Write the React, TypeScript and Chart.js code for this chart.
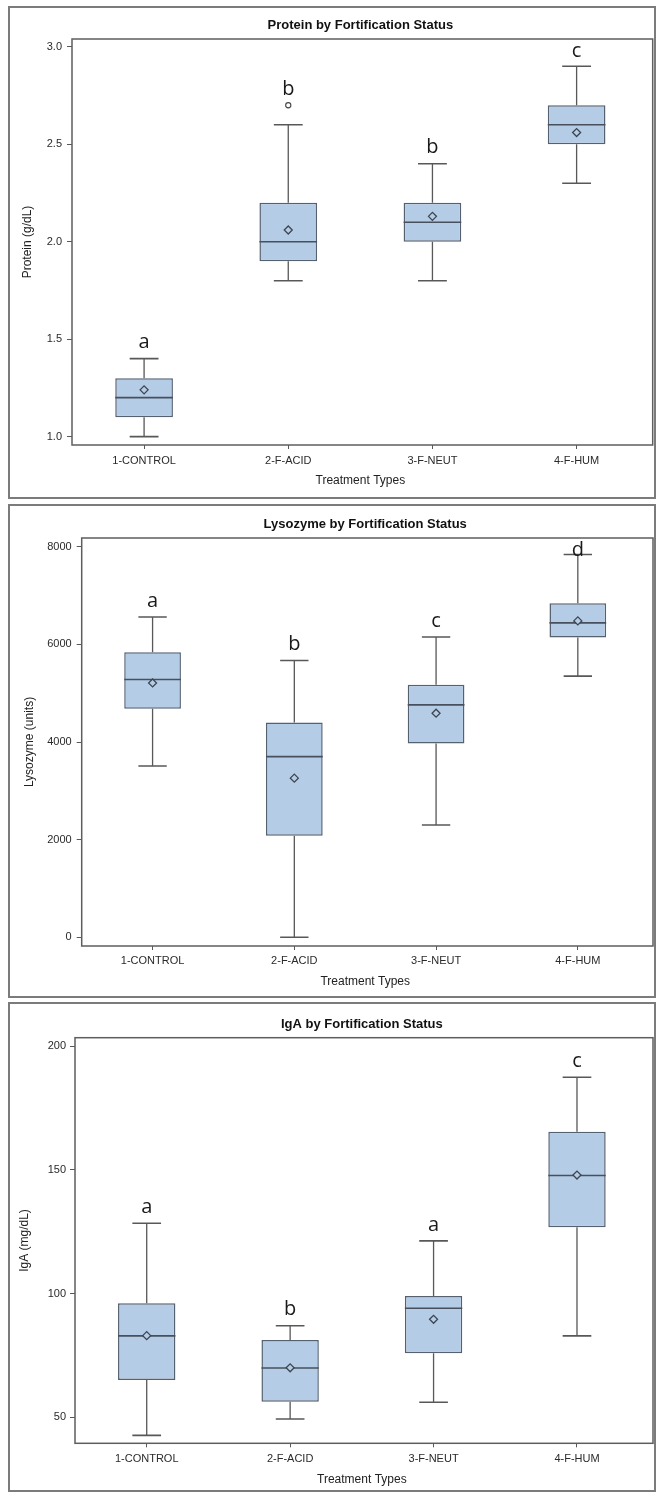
import React, { useEffect, useRef } from 'react';
import { Chart, registerables } from 'chart.js';

Chart.register(...registerables);

const categories = ['1-CONTROL', '2-F-ACID', '3-F-NEUT', '4-F-HUM'];
const xAxisTitle = 'Treatment Types';

// Protein (g/dL)
const proteinMin = [1.0, 1.8, 1.8, 2.3];
const proteinQ1 = [1.1, 1.9, 2.0, 2.5];
const proteinMedian = [1.2, 2.0, 2.1, 2.6];
const proteinQ3 = [1.3, 2.2, 2.2, 2.7];
const proteinMax = [1.4, 2.6, 2.4, 2.9];
const proteinMean = [1.24, 2.06, 2.13, 2.56];
const proteinOutliers = [null, 2.7, null, null];
const proteinLetters = ['a', 'b', 'b', 'c'];
const proteinTicks = [1.0, 1.5, 2.0, 2.5, 3.0];
const proteinTickLabels = ['1.0', '1.5', '2.0', '2.5', '3.0'];
const proteinRange = [0.957, 3.04];

// Lysozyme (units)
const lysozymeMin = [3510, 0, 2300, 5350];
const lysozymeQ1 = [4680, 2080, 3970, 6140];
const lysozymeMedian = [5280, 3700, 4760, 6440];
const lysozymeQ3 = [5840, 4400, 5170, 6840];
const lysozymeMax = [6560, 5670, 6150, 7840];
const lysozymeMean = [5210, 3260, 4590, 6480];
const lysozymeOutliers = [null, null, null, null];
const lysozymeLetters = ['a', 'b', 'c', 'd'];
const lysozymeTicks = [0, 2000, 4000, 6000, 8000];
const lysozymeTickLabels = ['0', '2000', '4000', '6000', '8000'];
const lysozymeRange = [-178, 8178];

// IgA (mg/dL)
const igaMin = [42.7, 49.3, 56.1, 82.9];
const igaQ1 = [65.1, 56.3, 75.9, 126.8];
const igaMedian = [82.9, 69.9, 94.1, 147.7];
const igaQ3 = [96.1, 81.2, 99.0, 165.4];
const igaMax = [128.4, 87.0, 121.3, 187.4];
const igaMean = [83.0, 70.0, 89.6, 147.9];
const igaOutliers = [null, null, null, null];
const igaLetters = ['a', 'b', 'a', 'c'];
const igaTicks = [50, 100, 150, 200];
const igaTickLabels = ['50', '100', '150', '200'];
const igaRange = [39.5, 203.4];

const FONT = "'Liberation Sans', Arial, sans-serif";
const BOX_FILL = '#b5cce7';
const BOX_EDGE = '#566170';
const LINE = '#585858';

const panelData = [
  {
    title: 'Protein by Fortification Status', yTitle: 'Protein (g/dL)',
    min: proteinMin, q1: proteinQ1, median: proteinMedian, q3: proteinQ3, max: proteinMax,
    mean: proteinMean, outliers: proteinOutliers, letters: proteinLetters,
    ticks: proteinTicks, tickLabels: proteinTickLabels, range: proteinRange,
  },
  {
    title: 'Lysozyme by Fortification Status', yTitle: 'Lysozyme (units)',
    min: lysozymeMin, q1: lysozymeQ1, median: lysozymeMedian, q3: lysozymeQ3, max: lysozymeMax,
    mean: lysozymeMean, outliers: lysozymeOutliers, letters: lysozymeLetters,
    ticks: lysozymeTicks, tickLabels: lysozymeTickLabels, range: lysozymeRange,
  },
  {
    title: 'IgA by Fortification Status', yTitle: 'IgA (mg/dL)',
    min: igaMin, q1: igaQ1, median: igaMedian, q3: igaQ3, max: igaMax,
    mean: igaMean, outliers: igaOutliers, letters: igaLetters,
    ticks: igaTicks, tickLabels: igaTickLabels, range: igaRange,
  },
];

const panelLayout = [
  { top: 6, height: 493, titlePad: { top: 9.2, bottom: 6.2 }, yWidth: 62, padRight: 1.3, frameRightInset: 1.3, xHeight: 52, xTickPad: 5, xTitlePadBottom: 8.8, yTitlePadTop: 10.8, yTickPad: 5 },
  { top: 504, height: 494, titlePad: { top: 10.2, bottom: 6.2 }, yWidth: 71.7, padRight: 0, frameRightInset: 1, xHeight: 50, xTickPad: 4, xTitlePadBottom: 7.1, yTitlePadTop: 12.8, yTickPad: 5 },
  { top: 1002, height: 490, titlePad: { top: 12.2, bottom: 5.9 }, yWidth: 65, padRight: 0, frameRightInset: 1, xHeight: 46.7, xTickPad: 5, xTitlePadBottom: 2.8, yTitlePadTop: 7.8, yTickPad: 4 },
];

const PANEL_LEFT = 8;
const PANEL_WIDTH = 648;
const BORDER = 2;

function BoxPanel({ d, l }: { d: any; l: any }) {
  const ref = useRef<HTMLCanvasElement | null>(null);
  const w = PANEL_WIDTH - 2 * BORDER;
  const h = l.height - 2 * BORDER;

  useEffect(() => {
    if (!ref.current) return;
    const extras = {
      id: 'boxExtras',
      beforeDatasetsDraw(chart: any) {
        const { ctx, chartArea } = chart;
        const right = chart.width - l.frameRightInset;
        ctx.save();
        ctx.strokeStyle = '#5e5e5e';
        ctx.lineWidth = 1.5;
        ctx.strokeRect(chartArea.left, chartArea.top, right - chartArea.left, chartArea.bottom - chartArea.top);
        ctx.restore();
      },
      afterDatasetDraw(chart: any, args: any) {
        if (args.index !== 0) return;
        const { ctx } = chart;
        const y = chart.scales.y;
        const meta = chart.getDatasetMeta(0);
        ctx.save();
        meta.data.forEach((el: any, i: number) => {
          const x = el.x;
          const bw = el.width;
          const cap = bw * 0.5;
          ctx.strokeStyle = LINE;
          ctx.lineWidth = 1.3;
          ctx.beginPath();
          ctx.moveTo(x, y.getPixelForValue(d.q3[i]));
          ctx.lineTo(x, y.getPixelForValue(d.max[i]));
          ctx.moveTo(x, y.getPixelForValue(d.q1[i]));
          ctx.lineTo(x, y.getPixelForValue(d.min[i]));
          ctx.stroke();
          ctx.lineWidth = 1.6;
          ctx.beginPath();
          ctx.moveTo(x - cap / 2, y.getPixelForValue(d.max[i]));
          ctx.lineTo(x + cap / 2, y.getPixelForValue(d.max[i]));
          ctx.moveTo(x - cap / 2, y.getPixelForValue(d.min[i]));
          ctx.lineTo(x + cap / 2, y.getPixelForValue(d.min[i]));
          ctx.stroke();
          ctx.strokeStyle = '#47505c';
          ctx.lineWidth = 1.6;
          ctx.beginPath();
          const my = y.getPixelForValue(d.median[i]);
          ctx.moveTo(x - bw / 2, my);
          ctx.lineTo(x + bw / 2, my);
          ctx.stroke();
        });
        ctx.restore();
      },
      afterDraw(chart: any) {
        const { ctx, chartArea } = chart;
        const y = chart.scales.y;
        const meta = chart.getDatasetMeta(0);
        ctx.save();
        ctx.fillStyle = '#1a1a1a';
        ctx.font = "20px 'Open Sans', 'Noto Sans', sans-serif";
        ctx.textAlign = 'center';
        ctx.textBaseline = 'middle';
        meta.data.forEach((el: any, i: number) => {
          const topVal = Math.max(d.max[i], d.outliers[i] == null ? -Infinity : d.outliers[i]);
          const py = Math.max(y.getPixelForValue(topVal) - 16, chartArea.top + 12);
          ctx.fillText(d.letters[i], el.x, py);
        });
        ctx.restore();
      },
    };

    const chart = new Chart(ref.current, {
      type: 'bar',
      data: {
        labels: categories,
        datasets: [
          {
            type: 'bar',
            label: 'IQR',
            data: categories.map((_, i) => [d.q1[i], d.q3[i]]),
            backgroundColor: BOX_FILL,
            borderColor: BOX_EDGE,
            borderWidth: 1.5,
            borderSkipped: false,
            barPercentage: 1,
            categoryPercentage: 0.4,
            order: 2,
          } as any,
          {
            type: 'line',
            label: 'Mean',
            data: d.mean,
            showLine: false,
            pointStyle: 'rectRot',
            pointRadius: 4,
            pointBackgroundColor: BOX_FILL,
            pointBorderColor: '#3d4650',
            pointBorderWidth: 1.3,
            order: 1,
          } as any,
          {
            type: 'line',
            label: 'Outliers',
            data: d.outliers,
            showLine: false,
            pointStyle: 'circle',
            pointRadius: 2.6,
            pointBackgroundColor: '#ffffff',
            pointBorderColor: '#444',
            pointBorderWidth: 1.1,
            order: 0,
          } as any,
        ],
      },
      options: {
        responsive: false,
        animation: false,
        events: [],
        devicePixelRatio: 1,
        layout: { padding: { top: 0, left: 0, bottom: 0, right: l.padRight } },
        plugins: {
          legend: { display: false },
          tooltip: { enabled: false },
          title: {
            display: true,
            text: d.title,
            fullSize: false,
            color: '#111',
            font: { family: FONT, size: 13, weight: 'bold' },
            padding: l.titlePad,
          },
        },
        scales: {
          x: {
            type: 'category',
            offset: true,
            border: { display: false },
            grid: { display: true, offset: false, drawOnChartArea: false, drawTicks: true, tickLength: 4, color: LINE },
            ticks: { color: '#2a2a2a', padding: l.xTickPad, font: { family: FONT, size: 11 }, maxRotation: 0, autoSkip: false },
            title: { display: true, text: xAxisTitle, color: '#222', font: { family: FONT, size: 12 }, padding: { top: 0, bottom: l.xTitlePadBottom } },
            afterFit: (s: any) => { s.height = l.xHeight; },
          },
          y: {
            type: 'linear',
            min: d.range[0],
            max: d.range[1],
            border: { display: false },
            grid: { display: true, drawOnChartArea: false, drawTicks: true, tickLength: 5, color: LINE },
            afterBuildTicks: (s: any) => { s.ticks = d.ticks.map((v: number) => ({ value: v })); },
            ticks: {
              color: '#2a2a2a', padding: l.yTickPad, font: { family: FONT, size: 11 },
              callback: (_v: any, idx: number) => d.tickLabels[idx],
            },
            title: { display: true, text: d.yTitle, color: '#222', font: { family: FONT, size: 12 }, padding: { top: l.yTitlePadTop, bottom: 0 } },
            afterFit: (s: any) => { s.width = l.yWidth; },
          },
        },
      },
      plugins: [extras],
    } as any);
    return () => chart.destroy();
  }, []);

  return (
    <div style={{ position: 'absolute', left: PANEL_LEFT, top: l.top, width: PANEL_WIDTH, height: l.height, boxSizing: 'border-box', border: `${BORDER}px solid #7b7b7b`, background: '#fff' }}>
      <canvas ref={ref} width={w} height={h} style={{ display: 'block', width: w, height: h }} />
    </div>
  );
}

export default function App() {
  return (
    <div style={{ position: 'absolute', left: 0, top: 0, width: 658, height: 1494, background: '#fff' }}>
      {panelData.map((d, i) => (
        <BoxPanel key={i} d={d} l={panelLayout[i]} />
      ))}
    </div>
  );
}
